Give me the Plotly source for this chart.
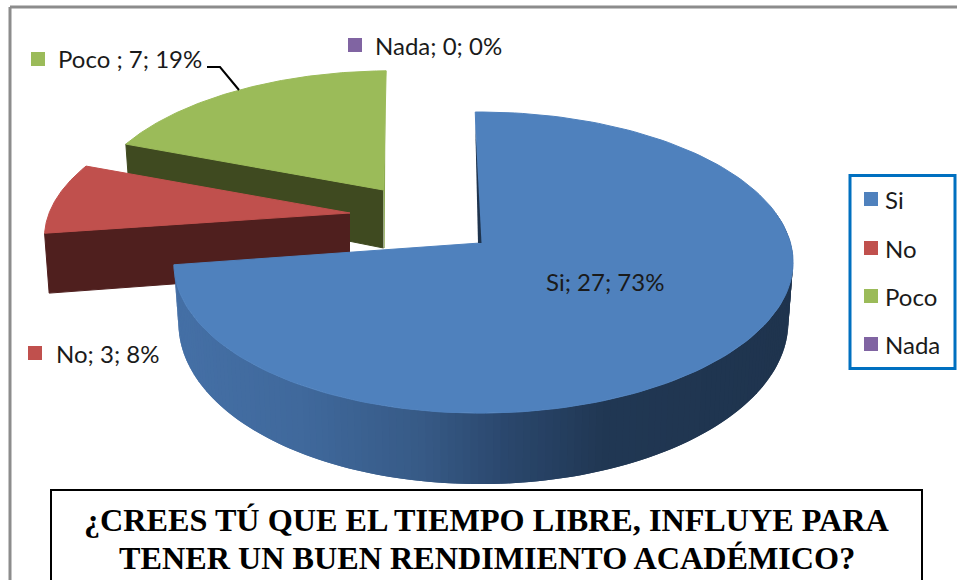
import numpy as np
import plotly.graph_objects as go

categories = ["Si", "No", "Poco", "Nada"]
values = [27, 3, 7, 0]
colors = ["#4F81BD", "#C0504D", "#9BBB59", "#8064A2"]
face_colors = ["#1F344E", "#4F1F1E", "#3F4A20", "#3F3251"]
label_prefix = ["Si", "No", "Poco ", "Nada"]
title_lines = ["¿CREES TÚ QUE EL TIEMPO LIBRE, INFLUYE PARA",
               "TENER UN BUEN RENDIMIENTO ACADÉMICO?"]

# ---- view (screen-pixel axes, perspective of the tilted pie) ----
W, H = 957, 580
START = -1.0
K, AY, BX = 0.13, 148.0, 307.0
apex = {"Si": (480, 243), "No": (350, 213), "Poco": (383.5, 190)}
scale = {"Si": (1, 1), "No": (0.98, 0.93), "Poco": (0.95, 0.91)}
shear = {"Si": 0.0, "No": 0.10, "Poco": 0.06}
bulge = {"Si": 3.5, "No": 0.0, "Poco": 0.0}
DEPTH0, DEPTHK, SHRINK = 58.0, 13.0, 0.985


def rim(cat, deg, bottom=False):
    a = np.radians(np.asarray(deg, float))
    u, v = np.sin(a), np.cos(a)
    ax, ay = apex[cat]
    sx, sy = scale[cat]
    y = -AY * sy * v / (1 + K * v)
    x = BX * sx * u / (1 + K * v) - shear[cat] * y + bulge[cat] * u * u
    if bottom:
        return ax + x * SHRINK, ay + y + DEPTH0 - DEPTHK * v
    return ax + x, ay + y


def poly(x, y, color, name="", lw=1):
    return go.Scatter(x=list(x), y=list(y), mode="lines", fill="toself", fillcolor=color,
                      line=dict(color=color, width=lw), hoverinfo="skip", showlegend=False, name=name)


def lerp_side(x):
    xs = [175, 300, 420, 500, 600, 800]
    rs = [0x45, 0x40, 0x37, 0x2B, 0x21, 0x1F]
    gs = [0x70, 0x69, 0x5A, 0x48, 0x38, 0x34]
    bs = [0xA6, 0x9C, 0x86, 0x6E, 0x54, 0x4E]
    return "rgb(%d,%d,%d)" % (np.interp(x, xs, rs), np.interp(x, xs, gs), np.interp(x, xs, bs))


total = sum(values)
sweeps = {}
a0 = START
for c, v in zip(categories, values):
    sweeps[c] = (a0, a0 + 360 * v / total)
    a0 += 360 * v / total

fig = go.Figure()


def top_surface(cat, color):
    s, e = sweeps[cat]
    d = np.linspace(s, e, 160)
    x, y = rim(cat, d)
    ax, ay = apex[cat]
    return poly([ax, *x, ax], [ay, *y, ay], color, cat)


def cut_face(cat, deg, color):
    ax, ay = apex[cat]
    x, y = rim(cat, deg)
    xb, yb = rim(cat, deg, True)
    return poly([ax, x, xb, ax], [ay, y, yb, ay + DEPTH0], color, cat)


# green slice with its thin lit edge on the right
fig.add_trace(cut_face("Poco", sweeps["Poco"][0], face_colors[2]))
gx, gy = rim("Poco", sweeps["Poco"][1])
ax_g, ay_g = apex["Poco"]
fig.add_trace(poly([gx, gx - 0.5, ax_g + 1.2, ax_g + 0.5, ax_g],
                   [gy, gy, ay_g + DEPTH0, ay_g + DEPTH0, ay_g], "#8AA84E", lw=0))
fig.add_trace(top_surface("Poco", colors[2]))
# red slice
fig.add_trace(cut_face("No", sweeps["No"][0], face_colors[1]))
fig.add_trace(top_surface("No", colors[1]))
# blue slice: outer wall as shaded strips, then top surface
s, e = sweeps["Si"]
edges = np.linspace(e, 78, 150)
step = edges[1] - edges[0]
for d0, d1 in zip(edges[:-1], edges[1:]):
    # each strip runs a little under the next one, so no seam shows
    dd = np.linspace(d0, max(d1 + step, 78), 4)
    x, y = rim("Si", dd)
    xb, yb = rim("Si", dd, True)
    fig.add_trace(poly([*x, *xb[::-1]], [*y, *yb[::-1]], lerp_side(rim("Si", d0)[0]), lw=0))
fig.add_trace(top_surface("Si", colors[0]))
# dark sliver of the blue slice's inner cut
rx, ry = rim("Si", s)
ax_b, ay_b = apex["Si"]
fig.add_trace(poly([rx, ax_b - 2, ax_b + 1.5, rx], [ry + 14, ay_b, ay_b, ry + 14], face_colors[0], lw=0))

# leader line of the Poco label
fig.add_trace(go.Scatter(x=[207, 220, 239], y=[67, 67, 90], mode="lines",
                         line=dict(color="black", width=2), hoverinfo="skip", showlegend=False))

# data-label keys
key_pos = {"No": (35, 353), "Poco": (38, 59), "Nada": (355, 45)}
for c, col in zip(categories[1:], colors[1:]):
    fig.add_trace(go.Scatter(x=[key_pos[c][0]], y=[key_pos[c][1]], mode="markers",
                             marker=dict(symbol="square", size=14, color=col),
                             hoverinfo="skip", showlegend=False))

# legend keys
legend_y = [199, 248, 296, 344]
fig.add_trace(go.Scatter(x=[871] * 4, y=legend_y, mode="markers",
                         marker=dict(symbol="square", size=14, color=colors),
                         hoverinfo="skip", showlegend=False))

label_pos = {"Si": (544, 281, "left"), "No": (54, 353, "left"),
             "Poco": (56, 58, "left"), "Nada": (373, 45, "left")}
anns = []
for c, p, v in zip(categories, label_prefix, values):
    x, y, anc = label_pos[c]
    anns.append(dict(x=x, y=y, xref="x", yref="y", xanchor=anc, yanchor="middle", showarrow=False,
                     text=f"{p}; {v}; {round(100 * v / total)}%",
                     font=dict(family="Lato", size=24, color="#1a1a1a")))
for c, y in zip(categories, legend_y):
    anns.append(dict(x=883, y=y, xref="x", yref="y", xanchor="left", yanchor="middle", showarrow=False,
                     text=c, font=dict(family="Lato", size=24, color="#1a1a1a")))
for i, line in enumerate(title_lines):
    anns.append(dict(x=487, y=520 + i * 38, xref="x", yref="y", xanchor="center", yanchor="middle",
                     showarrow=False, text=f"<b>{line}</b>",
                     font=dict(family="Liberation Serif", size=32.2, color="black")))

fig.update_layout(
    width=W, height=H, margin=dict(l=0, r=0, t=0, b=0),
    paper_bgcolor="white", plot_bgcolor="white", showlegend=False,
    xaxis=dict(range=[0, W], visible=False, fixedrange=True),
    yaxis=dict(range=[H, 0], visible=False, fixedrange=True),
    annotations=anns,
    shapes=[
        dict(type="line", xref="x", yref="y", x0=10, x1=10, y0=7, y1=H, line=dict(color="#8C8C8C", width=3)),
        dict(type="line", xref="x", yref="y", x0=10, x1=W, y0=7, y1=7, line=dict(color="#8C8C8C", width=3)),
        dict(type="rect", xref="x", yref="y", x0=51, x1=922, y0=490, y1=H + 20,
             line=dict(color="black", width=2), fillcolor="white"),
        dict(type="rect", xref="x", yref="y", x0=850, x1=955, y0=175.5, y1=368.5,
             line=dict(color="#0070C0", width=3)),
    ],
)
fig.write_html("out.html", config=dict(displayModeBar=False),
               post_script="document.body.style.margin='0';")
